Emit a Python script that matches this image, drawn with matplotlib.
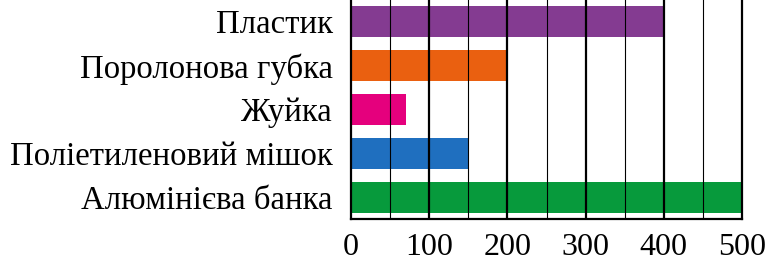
import matplotlib
matplotlib.use("Agg")
import matplotlib.pyplot as plt

# Data (top to bottom)
labels = ["Пластик", "Поролонова губка", "Жуйка", "Поліетиленовий мішок", "Алюмінієва банка"]
values = [400, 200, 70, 150, 500]
colors = ["#843b91", "#ea6010", "#e5007d", "#1f6fbf", "#079a3c"]
ticks = [0, 100, 200, 300, 400, 500]

plt.rcParams["font.family"] = ["Liberation Serif", "DejaVu Serif"]

fig = plt.figure(figsize=(7.77, 2.65), dpi=100)
ax = fig.add_axes([351 / 777, 46 / 265, 391 / 777, 220 / 265])

pos = list(range(len(labels)))[::-1]
ax.barh(pos, values, color=colors, height=0.70, zorder=1)

ax.set_xlim(0, 500)
ax.set_ylim(-0.49, len(labels) - 0.49)

# grid: thin every 50, thick every 100
for x in range(50, 500, 100):
    ax.axvline(x, color="black", lw=0.8, zorder=2)
for x in range(100, 500, 100):
    ax.axvline(x, color="black", lw=1.6, zorder=2)

ax.set_yticks(pos)
ax.set_yticklabels(labels, fontsize=23.6)
ax.set_xticks(ticks)
ax.set_xticklabels([str(t) for t in ticks], fontsize=23)
ax.tick_params(axis="y", length=0, pad=13)
ax.tick_params(axis="x", length=0, pad=10)

for s in ["left", "bottom", "right"]:
    ax.spines[s].set_linewidth(1.6)
    ax.spines[s].set_zorder(3)
ax.spines["top"].set_visible(False)

fig.savefig("out.png", dpi=100)
